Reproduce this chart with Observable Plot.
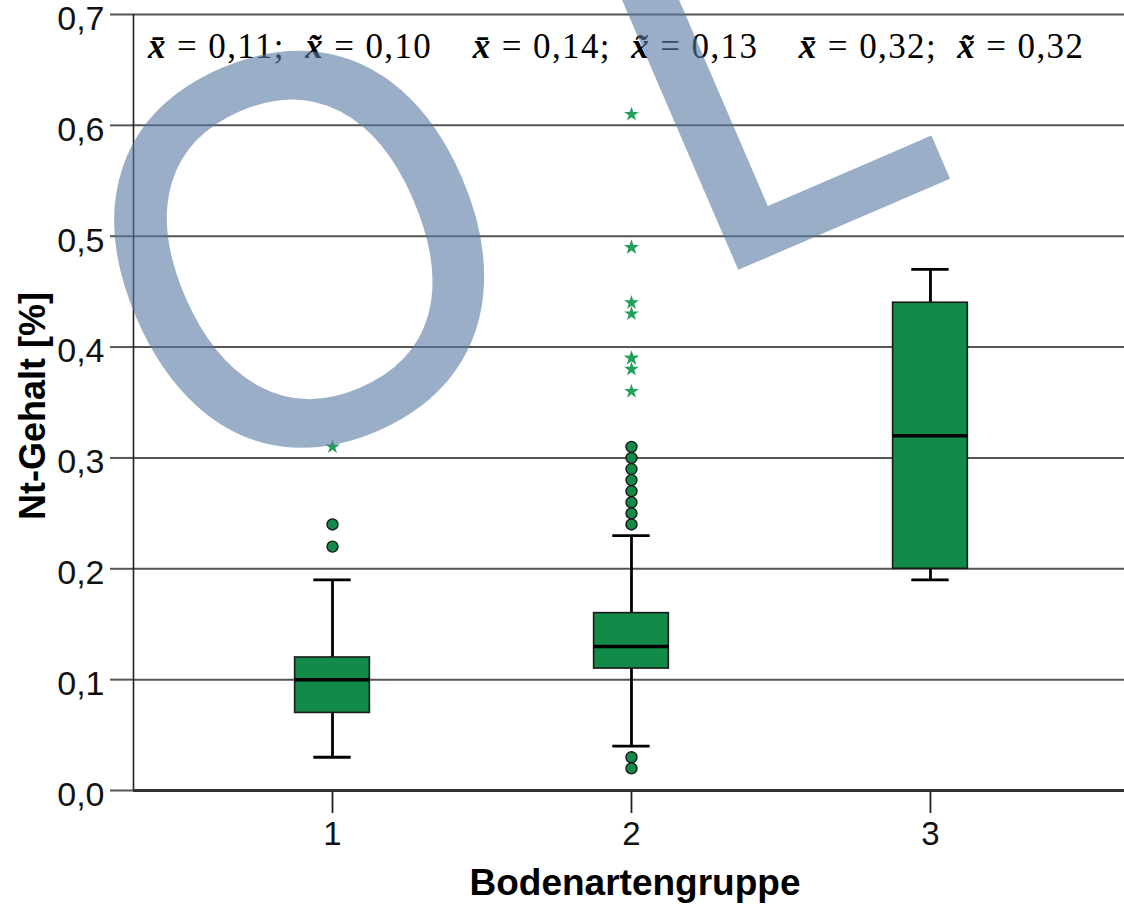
<!DOCTYPE html>
<html>
<head>
<meta charset="utf-8">
<script src="https://cdn.jsdelivr.net/npm/d3@7"></script>
<script src="https://cdn.jsdelivr.net/npm/@observablehq/plot@0.6"></script>
<style>
  html, body { margin: 0; padding: 0; background: #fff; }
  #chart svg { display: block; }
</style>
</head>
<body>
<div id="chart"></div>
<script>
// ---- data ----
const groups = [1, 2, 3];
const groupLabels = ["1", "2", "3"];
const whiskerLow = [0.03, 0.04, 0.19];
const quart1 = [0.07, 0.11, 0.20];
const medians = [0.10, 0.13, 0.32];
const quart3 = [0.12, 0.16, 0.44];
const whiskerHigh = [0.19, 0.23, 0.47];
const meanLabels = ["0,11", "0,14", "0,32"];
const medianLabels = ["0,10", "0,13", "0,32"];
const outlierGroup = [1, 1, 2, 2, 2, 2, 2, 2, 2, 2, 2, 2];
const outlierValue = [0.24, 0.22, 0.31, 0.30, 0.29, 0.28, 0.27, 0.26, 0.25, 0.24, 0.03, 0.02];
const extremeGroup = [1, 2, 2, 2, 2, 2, 2, 2, 2, 2];
const extremeValue = [0.31, 0.61, 0.49, 0.49, 0.44, 0.43, 0.39, 0.39, 0.38, 0.36];
const yTicks = [0, 0.1, 0.2, 0.3, 0.4, 0.5, 0.6, 0.7];
const yTickLabels = ["0,0", "0,1", "0,2", "0,3", "0,4", "0,5", "0,6", "0,7"];
const xTitle = "Bodenartengruppe";
const yTitle = "Nt-Gehalt [%]";
const watermark = "O L";

// ---- derived tables ----
const boxes = groups.map((g, i) => ({g, lo: whiskerLow[i], q1: quart1[i], med: medians[i], q3: quart3[i], hi: whiskerHigh[i]}));
const outliers = outlierGroup.map((g, i) => ({g, v: outlierValue[i]}));
const extremes = extremeGroup.map((g, i) => ({g, v: extremeValue[i]}));
const yLabelRows = yTicks.map((t, i) => ({t, label: yTickLabels[i]}));

const xDomain = [0.3344, 3.649];
const BW = 0.125, CW = 0.0625;
const GREEN = "#118b47";

const plot = Plot.plot({
  width: 1124,
  height: 905,
  marginTop: 14,
  marginBottom: 115,
  marginLeft: 133,
  marginRight: 0,
  style: {fontFamily: "'Liberation Sans', Arial, sans-serif", background: "#fff", color: "#111"},
  x: {type: "linear", domain: xDomain, label: null},
  y: {domain: [0, 0.7], label: null},
  marks: [
    Plot.ruleY(yTicks.filter(t => t > 0), {stroke: "#555", strokeWidth: 2}),
    Plot.axisY(yTicks, {
      tickSize: 23, tickPadding: 3, fontSize: 1, stroke: "#555", strokeWidth: 2,
      tickFormat: () => "", label: null
    }),
    Plot.text(yLabelRows, {
      y: "t", text: "label", frameAnchor: "left", textAnchor: "end",
      dx: -29, dy: 4.5, fontSize: 34, fill: "#111"
    }),
    Plot.axisX(groups, {
      tickSize: 23, tickPadding: 8, fontSize: 33, stroke: "#222", strokeWidth: 1.8,
      tickFormat: d => groupLabels[groups.indexOf(d)], label: null
    }),
    Plot.ruleX([xDomain[0]], {stroke: "#222", strokeWidth: 1.6}),
    Plot.ruleY([0], {stroke: "#333", strokeWidth: 3}),
    // whiskers
    Plot.ruleX(boxes, {x: "g", y1: "q3", y2: "hi", stroke: "#000", strokeWidth: 2.8}),
    Plot.ruleX(boxes, {x: "g", y1: "lo", y2: "q1", stroke: "#000", strokeWidth: 2.8}),
    Plot.ruleY(boxes, {y: "hi", x1: d => d.g - CW, x2: d => d.g + CW, stroke: "#000", strokeWidth: 2.8}),
    Plot.ruleY(boxes, {y: "lo", x1: d => d.g - CW, x2: d => d.g + CW, stroke: "#000", strokeWidth: 2.8}),
    // boxes
    Plot.rect(boxes, {x1: d => d.g - BW, x2: d => d.g + BW, y1: "q1", y2: "q3", fill: GREEN, stroke: "#1a1a1a", strokeWidth: 1.6}),
    Plot.ruleY(boxes, {y: "med", x1: d => d.g - BW, x2: d => d.g + BW, stroke: "#000", strokeWidth: 3.5}),
    // outliers
    Plot.dot(outliers, {x: "g", y: "v", r: 5.5, fill: GREEN, stroke: "#1a1a1a", strokeWidth: 1.4}),
    Plot.dot(extremes, {x: "g", y: "v", symbol: "star", r: 4.6, fill: "#22a05a", stroke: "none"})
  ]
});

document.getElementById("chart").appendChild(plot);
const svg = d3.select(plot);

// axis titles
svg.append("text")
  .attr("transform", "translate(45,406) rotate(-90)")
  .attr("text-anchor", "middle")
  .attr("font-family", "'Liberation Sans', Arial, sans-serif")
  .attr("font-weight", "bold")
  .attr("font-size", 36)
  .attr("fill", "#000")
  .text(yTitle);

svg.append("text")
  .attr("x", 635)
  .attr("y", 895)
  .attr("text-anchor", "middle")
  .attr("font-family", "'Liberation Sans', Arial, sans-serif")
  .attr("font-weight", "bold")
  .attr("font-size", 37)
  .attr("fill", "#000")
  .text(xTitle);

// header statistics line
const header = svg.append("text")
  .attr("x", 148)
  .attr("y", 58)
  .attr("text-anchor", "start")
  .attr("font-family", "'Liberation Serif', 'DejaVu Serif', serif")
  .attr("font-size", 35)
  .attr("fill", "#000")
  .attr("textLength", 935)
  .attr("lengthAdjust", "spacing")
  .style("white-space", "pre");
groups.forEach((g, i) => {
  header.append("tspan").attr("font-weight", "bold").attr("font-style", "italic").text("x\u0304");
  header.append("tspan").text(" = " + meanLabels[i] + ";  ");
  header.append("tspan").attr("font-weight", "bold").attr("font-style", "italic").text("x\u0303");
  header.append("tspan").text(" = " + medianLabels[i] + (i < groups.length - 1 ? "    " : ""));
});

// watermark overlay
svg.append("text")
  .attr("transform", "translate(192,502.4) rotate(-23.3) scale(0.93,1)")
  .attr("text-anchor", "start")
  .attr("font-family", "'Liberation Sans', Arial, sans-serif")
  .attr("font-size", 551)
  .attr("letter-spacing", 7)
  .attr("fill", "rgb(90,122,165)")
  .attr("stroke", "rgb(90,122,165)")
  .attr("stroke-width", 5)
  .attr("stroke-linejoin", "miter")
  .attr("opacity", 0.6)
  .style("white-space", "pre")
  .text(watermark);
</script>
</body>
</html>
